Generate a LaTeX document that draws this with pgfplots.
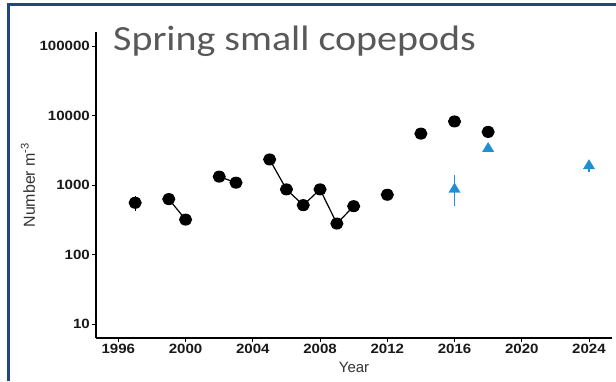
\documentclass[border=0pt]{standalone}
\usepackage{fontspec}
\setmainfont{Liberation Sans}
\newfontfamily\titlefont[FakeStretch=1.13]{Carlito}
\newfontfamily\tickfont[FakeStretch=1.12]{Liberation Sans}
\usepackage{pgfplots}
\pgfplotsset{compat=1.18}
\definecolor{framecol}{RGB}{31,73,125}
\definecolor{ptblue}{RGB}{30,144,210}
\definecolor{titlegray}{RGB}{89,89,89}
\begin{document}
\begin{tikzpicture}[x=1bp,y=1bp]
\useasboundingbox (0,0) rectangle (616,381);
\fill[white] (0,0) rectangle (616,381);
\draw[framecol, line width=2.2bp] (8.5,0) -- (8.5,376.5) -- (616,376.5);
\begin{axis}[
  at={(96bp,43bp)}, anchor=south west,
  scale only axis, width=516bp, height=306bp,
  ymode=log,
  xmin=1994.67, xmax=2025.37, ymin=6.31, ymax=158489,
  axis x line*=bottom, axis y line*=left,
  axis line style={line width=1.1bp, black},
  xtick={1996,2000,2004,2008,2012,2016,2020,2024},
  xticklabels={1996,2000,2004,2008,2012,2016,2020,2024},
  ytick={10,100,1000,10000,100000},
  yticklabels={10,100,1000,10000,100000},
  yminorticks=false,
  tick align=outside, major tick length=4bp,
  tick style={black, line width=0.8bp},
  /pgf/number format/assume math mode=true,
  ticklabel style={font=\tickfont\bfseries\fontsize{13.5}{13.5}\selectfont, text=black!90},
  xticklabel style={inner sep=2bp},
  yticklabel style={inner sep=2bp},
  xlabel={Year},
  ylabel={Number m\textsuperscript{-3}},
  xlabel style={font=\fontsize{15}{15}\selectfont, text=black!80, at={(axis description cs:0.5,0)}, anchor=center, yshift=-29bp},
  ylabel style={font=\fontsize{16}{16}\selectfont, text=black!80, at={(axis description cs:0,0.5)}, anchor=center, yshift=68bp},
  unbounded coords=jump,
  clip=false,
]
% error bars
\addplot[black, line width=1.2bp, forget plot] coordinates {(1997,425) (1997,690)};
\addplot[ptblue, line width=1.3bp, forget plot] coordinates {(2016,496) (2016,1400)};
\addplot[ptblue, line width=1.3bp, forget plot] coordinates {(2024,1560) (2024,2180)};
% black series
\addplot[black, line width=1.2bp, mark=*, mark size=5.4bp, mark options={xscale=1.1, fill=black}] table[row sep=\\] {
x y\\
1997 555\\
1998 nan\\
1999 627\\
2000 318\\
2001 nan\\
2002 1320\\
2003 1080\\
2004 nan\\
2005 2330\\
2006 865\\
2007 513\\
2008 865\\
2009 279\\
2010 496\\
2011 nan\\
2012 724\\
2013 nan\\
2014 5480\\
2015 nan\\
2016 8200\\
2017 nan\\
2018 5800\\
};
% blue series
\addplot[only marks, mark=triangle*, mark size=6.2bp, mark options={ptblue, fill=ptblue, xscale=1.05}] table[row sep=\\] {
x y\\
2016 865\\
2018 3330\\
2024 1885\\
};
\end{axis}
\node[anchor=base west, inner sep=0pt, font=\titlefont\fontsize{35.5}{35.5}\selectfont, text=titlegray] at (113,331) {Spring small copepods};
\end{tikzpicture}
\end{document}
